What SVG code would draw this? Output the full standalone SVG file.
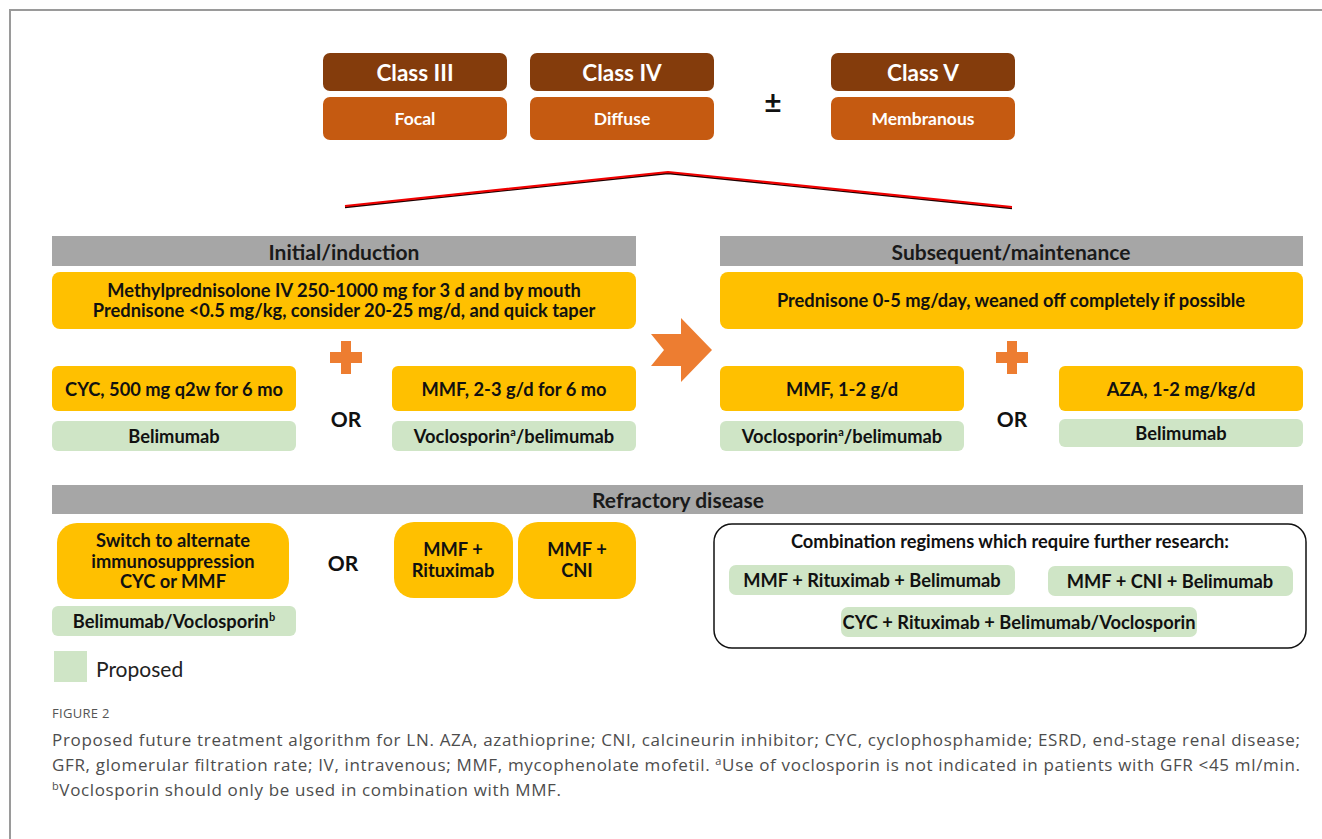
<svg xmlns="http://www.w3.org/2000/svg" width="1322" height="839" viewBox="0 0 1322 839">
<style>
  .cls{fill:#843c0c}
  .sub{fill:#c55a11}
  .wt{fill:#fff;font-family:Lato,"Open Sans",sans-serif;font-weight:bold;text-anchor:middle;dominant-baseline:central}
  .hdr{fill:#a6a6a6}
  .yel{fill:#ffc000}
  .grn{fill:#cfe5c6}
  .t{fill:#111;font-family:Lato,"Open Sans",sans-serif;font-weight:bold;font-size:18.3px;text-anchor:middle;dominant-baseline:central}
  .ht{fill:#1a1a1a;font-family:Lato,"Open Sans",sans-serif;font-weight:bold;font-size:21px;text-anchor:middle;dominant-baseline:central}
  .or{fill:#111;font-family:Lato,"Open Sans",sans-serif;font-weight:bold;font-size:21px;text-anchor:middle;dominant-baseline:central}
  .plus{fill:#ed7d31}
  .cap{fill:#4d4d4d;font-family:"Open Sans",sans-serif;font-size:17px}
</style>
<rect x="0" y="0" width="1322" height="839" fill="#fff"/>
<path d="M10 839 V10 H1322" fill="none" stroke="#9a9a9a" stroke-width="2"/>

<g id="class3">
  <rect class="cls" x="323" y="53" width="184" height="38" rx="7"/>
  <text class="wt" x="415" y="72" font-size="22.5">Class III</text>
  <rect class="sub" x="323" y="97" width="184" height="43" rx="7"/>
  <text class="wt" x="415" y="118" font-size="17.5">Focal</text>
</g>
<g id="class4">
  <rect class="cls" x="530" y="53" width="184" height="38" rx="7"/>
  <text class="wt" x="622" y="72" font-size="22.5">Class IV</text>
  <rect class="sub" x="530" y="97" width="184" height="43" rx="7"/>
  <text class="wt" x="622" y="118" font-size="17.5">Diffuse</text>
</g>
<g id="pm">
  <text class="or" x="773" y="101" style="font-size:30px">±</text>
</g>
<g id="class5">
  <rect class="cls" x="831" y="53" width="184" height="38" rx="7"/>
  <text class="wt" x="923" y="72" font-size="22.5">Class V</text>
  <rect class="sub" x="831" y="97" width="184" height="43" rx="7"/>
  <text class="wt" x="923" y="118" font-size="17.5">Membranous</text>
</g>

<g id="connectors">
  <polyline points="345,207.4 668,173.4 1012,208.4" fill="none" stroke="#200000" stroke-width="1.6"/>
  <polyline points="345,206 668,172 1012,207" fill="none" stroke="#f00000" stroke-width="2.2"/>
</g>

<g id="induction">
  <rect class="hdr" x="52" y="236" width="584" height="30"/>
  <text class="ht" x="344" y="251">Initial/induction</text>
  <rect class="yel" x="52" y="272" width="584" height="57" rx="8"/>
  <text class="t" x="344" y="289.5">Methylprednisolone IV 250-1000 mg for 3 d and by mouth</text>
  <text class="t" x="344" y="310">Prednisone &lt;0.5 mg/kg, consider 20-25 mg/d, and quick taper</text>
  <path class="plus" d="M341 341 h10 v11 h11 v11 h-11 v11 h-10 v-11 h-11 v-11 h11 z"/>
  <rect class="yel" x="52" y="366" width="244" height="45" rx="6"/>
  <text class="t" x="174" y="389">CYC, 500 mg q2w for 6 mo</text>
  <rect class="grn" x="52" y="421" width="244" height="30" rx="6"/>
  <text class="t" x="174" y="436">Belimumab</text>
  <text class="or" x="346" y="418">OR</text>
  <rect class="yel" x="392" y="366" width="244" height="45" rx="6"/>
  <text class="t" x="514" y="389">MMF, 2-3 g/d for 6 mo</text>
  <rect class="grn" x="392" y="421" width="244" height="30" rx="6"/>
  <text class="t" x="514" y="436">Voclosporin<tspan font-size="11" dy="-5">a</tspan><tspan dy="5">/belimumab</tspan></text>
</g>

<g id="arrow">
  <polygon class="plus" points="651,334 681,334 681,318 712,350 681,382 681,366 651,366 664,350"/>
</g>

<g id="maintenance">
  <rect class="hdr" x="720" y="236" width="583" height="30"/>
  <text class="ht" x="1011" y="251">Subsequent/maintenance</text>
  <rect class="yel" x="720" y="272" width="583" height="57" rx="8"/>
  <text class="t" x="1011" y="300">Prednisone 0-5 mg/day, weaned off completely if possible</text>
  <path class="plus" d="M1007 341 h10 v11 h11 v11 h-11 v11 h-10 v-11 h-11 v-11 h11 z"/>
  <rect class="yel" x="720" y="366" width="244" height="45" rx="6"/>
  <text class="t" x="842" y="389">MMF, 1-2 g/d</text>
  <rect class="grn" x="720" y="421" width="244" height="30" rx="6"/>
  <text class="t" x="842" y="436">Voclosporin<tspan font-size="11" dy="-5">a</tspan><tspan dy="5">/belimumab</tspan></text>
  <text class="or" x="1012" y="418">OR</text>
  <rect class="yel" x="1059" y="366" width="244" height="45" rx="6"/>
  <text class="t" x="1181" y="389">AZA, 1-2 mg/kg/d</text>
  <rect class="grn" x="1059" y="419" width="244" height="28" rx="6"/>
  <text class="t" x="1181" y="433">Belimumab</text>
</g>

<g id="refractory">
  <rect class="hdr" x="52" y="485" width="1251" height="29"/>
  <text class="ht" x="678" y="499">Refractory disease</text>
  <rect class="yel" x="57" y="523" width="232" height="76" rx="20"/>
  <text class="t" x="173" y="540">Switch to alternate</text>
  <text class="t" x="173" y="560.5">immunosuppression</text>
  <text class="t" x="173" y="581">CYC or MMF</text>
  <rect class="grn" x="52" y="606" width="244" height="30" rx="6"/>
  <text class="t" x="174" y="621">Belimumab/Voclosporin<tspan font-size="11" dy="-5">b</tspan></text>
  <text class="or" x="343" y="562">OR</text>
  <rect class="yel" x="394" y="522" width="119" height="76" rx="20"/>
  <text class="t" x="453" y="549">MMF +</text>
  <text class="t" x="453" y="570">Rituximab</text>
  <rect class="yel" x="518" y="522" width="118" height="77" rx="20"/>
  <text class="t" x="577" y="549">MMF +</text>
  <text class="t" x="577" y="570">CNI</text>
</g>

<g id="combination">
  <rect x="714" y="524" width="592" height="124" rx="18" fill="#fff" stroke="#111" stroke-width="1.5"/>
  <text class="t" x="1010" y="541">Combination regimens which require further research:</text>
  <rect class="grn" x="729" y="565" width="286" height="30" rx="7"/>
  <text class="t" x="872" y="580">MMF + Rituximab + Belimumab</text>
  <rect class="grn" x="1048" y="566" width="245" height="30" rx="7"/>
  <text class="t" x="1170" y="581">MMF + CNI + Belimumab</text>
  <rect class="grn" x="841" y="607" width="356" height="30" rx="7"/>
  <text class="t" x="1019" y="622">CYC + Rituximab + Belimumab/Voclosporin</text>
</g>

<g id="legend">
  <rect class="grn" x="54" y="651" width="33" height="31"/>
  <text x="96" y="668" fill="#222" font-family="Lato,'Open Sans',sans-serif" font-size="21" dominant-baseline="central">Proposed</text>
</g>

<g id="caption">
  <text x="52" y="718" fill="#555" font-family="'Open Sans',sans-serif" font-size="13" letter-spacing="0.3">FIGURE 2</text>
  <text class="cap" x="52" y="746" textLength="1248" lengthAdjust="spacing">Proposed future treatment algorithm for LN. AZA, azathioprine; CNI, calcineurin inhibitor; CYC, cyclophosphamide; ESRD, end-stage renal disease;</text>
  <text class="cap" x="52" y="771" textLength="1248" lengthAdjust="spacing">GFR, glomerular filtration rate; IV, intravenous; MMF, mycophenolate mofetil. <tspan font-size="11" dy="-6">a</tspan><tspan dy="6">Use of voclosporin is not indicated in patients with GFR &lt;45 ml/min.</tspan></text>
  <text class="cap" x="52" y="796" textLength="509" lengthAdjust="spacing"><tspan font-size="11" dy="-6">b</tspan><tspan dy="6">Voclosporin should only be used in combination with MMF.</tspan></text>
</g>
</svg>
